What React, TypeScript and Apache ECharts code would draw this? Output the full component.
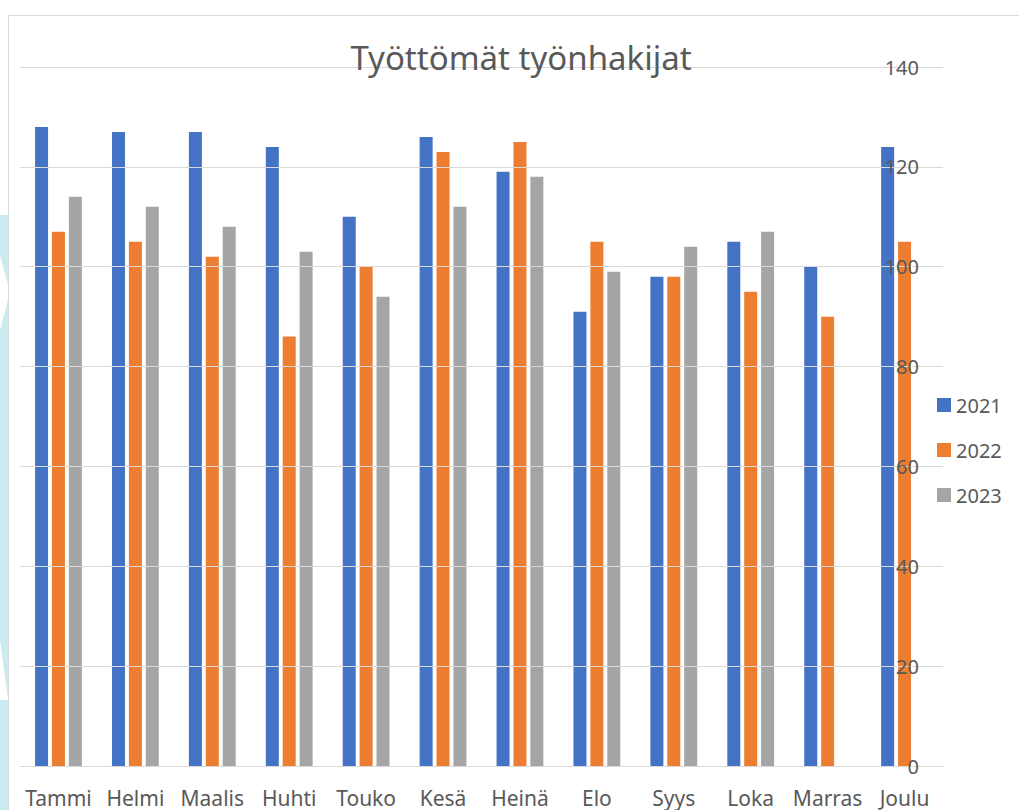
import React, { useEffect, useRef } from "react";
import * as echarts from "echarts";

const categories = ["Tammi", "Helmi", "Maalis", "Huhti", "Touko", "Kesä", "Heinä", "Elo", "Syys", "Loka", "Marras", "Joulu"];
const seriesNames = ["2021", "2022", "2023"];
const values2021 = [128, 127, 127, 124, 110, 126, 119, 91, 98, 105, 100, 124];
const values2022 = [107, 105, 102, 86, 100, 123, 125, 105, 98, 95, 90, 105];
const values2023: (number | null)[] = [114, 112, 108, 103, 94, 112, 118, 99, 104, 107, null, null];
const colors = ["#4472c4", "#ed7d31", "#a5a5a5"];
const yTicks = { min: 0, max: 140, interval: 20 };

const FONT = "'Noto Sans', 'Open Sans', sans-serif";

export default function App() {
  const ref = useRef<HTMLDivElement>(null);
  useEffect(() => {
    if (!ref.current) return;
    const chart = echarts.init(ref.current, null, { renderer: "svg" });
    const data = [values2021, values2022, values2023];
    chart.setOption({
      animation: false,
      backgroundColor: "#ffffff",
      title: {
        text: "Työttömät työnhakijat",
        left: 521,
        textAlign: "center",
        top: 41,
        padding: 0,
        textStyle: { fontFamily: FONT, fontSize: 33, fontWeight: "normal", color: "#595959" },
      },
      graphic: [
        { type: "rect", shape: { x: 0, y: 215, width: 8, height: 600 }, style: { fill: "#c8ecf0" }, silent: true },
        { type: "polygon", shape: { points: [[0, 255], [8, 285], [8, 300], [0, 330]] }, style: { fill: "#ffffff" }, silent: true },
        { type: "polygon", shape: { points: [[0, 640], [8, 700], [0, 700]] }, style: { fill: "#ffffff" }, silent: true },
        { type: "rect", shape: { x: 8.5, y: 15.5, width: 1100, height: 900 }, style: { fill: "none", stroke: "#d9d9d9", lineWidth: 1 }, silent: true },
      ],
      legend: {
        orient: "vertical",
        left: 937,
        top: 395,
        padding: 0,
        itemWidth: 14,
        itemHeight: 14,
        itemGap: 25,
        icon: "rect",
        data: seriesNames,
        textStyle: { fontFamily: FONT, fontSize: 20, color: "#595959" },
      },
      grid: { left: 20, right: 76, top: 67, bottom: 44, containLabel: false },
      xAxis: {
        type: "category",
        data: categories,
        axisLine: { show: true, lineStyle: { color: "#d9d9d9", width: 1 } },
        axisTick: { show: false },
        axisLabel: { fontFamily: FONT, fontSize: 21, color: "#595959", margin: 21, interval: 0 },
      },
      yAxis: {
        type: "value",
        position: "right",
        min: yTicks.min,
        max: yTicks.max,
        interval: yTicks.interval,
        axisLine: { show: false },
        axisTick: { show: false },
        splitLine: { lineStyle: { color: "#d9d9d9", width: 1 } },
        axisLabel: { inside: true, margin: 24, fontFamily: FONT, fontSize: 20, color: "#595959" },
        z: 5,
      },
      series: seriesNames.map((name, i) => ({
        name,
        type: "bar",
        data: data[i].map((v) => (v === null ? "-" : v)),
        barWidth: 13,
        barGap: "30%",
        itemStyle: { color: colors[i] },
        z: 2,
      })),
    });
    return () => chart.dispose();
  }, []);
  return <div ref={ref} style={{ position: "absolute", left: 0, top: 0, width: 1019, height: 810 }} />;
}
